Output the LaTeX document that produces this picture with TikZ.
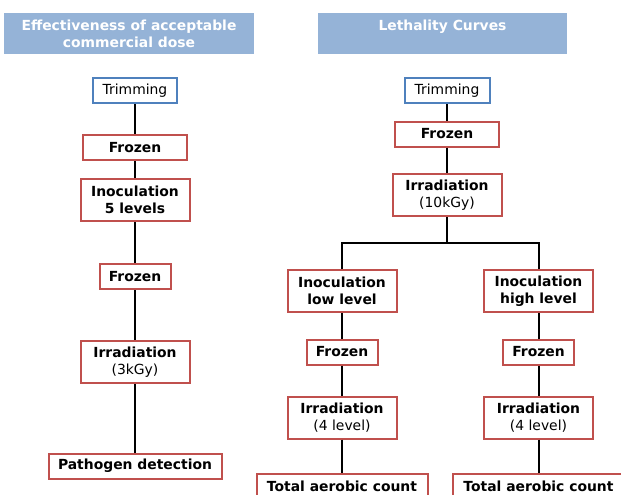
\documentclass[tikz,border=0pt]{standalone}
\usepackage{fontspec}
\setmainfont{DejaVu Sans}
\definecolor{boxred}{HTML}{C0504D}
\definecolor{boxblue}{HTML}{4F81BD}
\definecolor{hdrblue}{HTML}{95B3D7}
\begin{document}
\begin{tikzpicture}[x=1pt,y=-1pt,
  every node/.style={font=\fontsize{13.9}{17}\selectfont},
  box/.style={draw=boxred, line width=2pt, fill=white, align=center, inner sep=0pt},
  bluebox/.style={draw=boxblue, line width=2pt, fill=white, align=center, inner sep=0pt},
  hdr/.style={fill=hdrblue, text=white, font=\fontsize{13.9}{17}\selectfont\bfseries, align=center, inner sep=0pt, minimum height=41pt},
  conn/.style={draw=black, line width=2pt}]
\useasboundingbox (0,0) rectangle (621,495);
\clip (0,0) rectangle (621,495);
\fill[white] (0,0) rectangle (621,495);
% headers
\node[hdr, minimum width=250pt] (h1) at (129,33.5) {Effectiveness of acceptable\\commercial dose};
\node[hdr, minimum width=249pt] (h2) at (442.5,33.5) {Lethality Curves\\\mbox{}};
% left column
\node[bluebox, minimum width=84pt, minimum height=25pt] (trimL) at (135,90.5) {Trimming};
\node[box, minimum width=104pt, minimum height=25pt] (frL1) at (135,147.5) {\bfseries Frozen};
\node[box, minimum width=109pt, minimum height=42pt] (inL) at (135,200) {\bfseries Inoculation\\\bfseries 5 levels};
\node[box, minimum width=71pt, minimum height=25pt] (frL2) at (135,276.5) {\bfseries Frozen};
\node[box, minimum width=109pt, minimum height=42pt] (irL) at (135,362) {\bfseries Irradiation\\(3kGy)};
\node[box, minimum width=173pt, minimum height=25pt] (path) at (135,466) {\bfseries Pathogen detection};
% right column
\node[bluebox, minimum width=85pt, minimum height=25pt] (trimR) at (447,90.5) {Trimming};
\node[box, minimum width=104pt, minimum height=25pt] (frR1) at (447,134) {\bfseries Frozen};
\node[box, minimum width=109pt, minimum height=42pt] (ir10) at (447,195) {\bfseries Irradiation\\(10kGy)};
\coordinate (br) at (447,243);
\node[box, minimum width=109pt, minimum height=42pt] (inLo) at (342,291) {\bfseries Inoculation\\\bfseries low level};
\node[box, minimum width=109pt, minimum height=42pt] (inHi) at (538.5,291) {\bfseries Inoculation\\\bfseries high level};
\node[box, minimum width=71pt, minimum height=25pt] (frLo) at (342,352) {\bfseries Frozen};
\node[box, minimum width=71pt, minimum height=25pt] (frHi) at (538.5,352) {\bfseries Frozen};
\node[box, minimum width=109pt, minimum height=42pt] (irLo) at (342,417.5) {\bfseries Irradiation\\(4 level)};
\node[box, minimum width=109pt, minimum height=42pt] (irHi) at (538.5,417.5) {\bfseries Irradiation\\(4 level)};
\node[box, minimum width=171pt, minimum height=25pt] (totLo) at (342,486.5) {\bfseries Total aerobic count};
\node[box, minimum width=171pt, minimum height=25pt] (totHi) at (538.5,486.5) {\bfseries Total aerobic count};
% connectors
\draw[conn] (trimL.south) -- (frL1.north);
\draw[conn] (frL1.south) -- (inL.north);
\draw[conn] (inL.south) -- (frL2.north);
\draw[conn] (frL2.south) -- (irL.north);
\draw[conn] (irL.south) -- (path.north);
\draw[conn] (trimR.south) -- (frR1.north);
\draw[conn] (frR1.south) -- (ir10.north);
\draw[conn] (ir10.south) -- (br);
\draw[conn] (inLo.north) |- (br) -| (inHi.north);
\draw[conn] (inLo.south) -- (frLo.north);
\draw[conn] (frLo.south) -- (irLo.north);
\draw[conn] (irLo.south) -- (totLo.north);
\draw[conn] (inHi.south) -- (frHi.north);
\draw[conn] (frHi.south) -- (irHi.north);
\draw[conn] (irHi.south) -- (totHi.north);
\end{tikzpicture}
\end{document}
